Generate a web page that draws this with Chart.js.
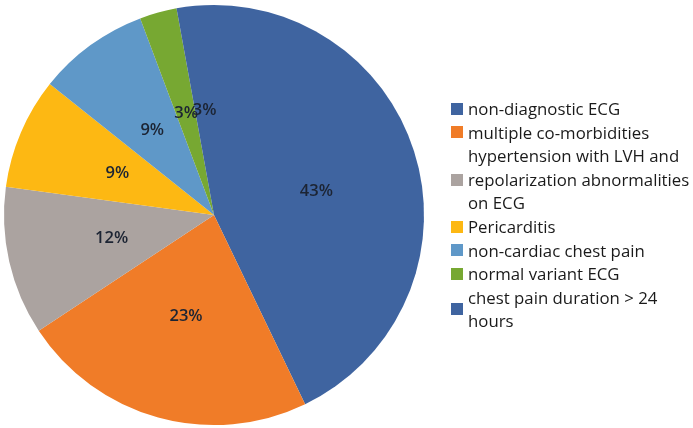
<!DOCTYPE html>
<html>
<head>
<meta charset="utf-8">
<script src="https://cdn.jsdelivr.net/npm/chart.js@4/dist/chart.umd.min.js"></script>
<style>
  html, body { margin: 0; padding: 0; background: #ffffff; }
  #wrap { position: relative; width: 693px; height: 428px; overflow: hidden; }
  #c { position: absolute; left: 0; top: 0; }
  #legend { position: absolute; left: 451px; top: 97px; font-family: "Open Sans", Lato, sans-serif; font-size: 16.8px; color: #1a1a1a; }
  .item { position: relative; padding-left: 17px; line-height: 23.6px; white-space: nowrap; }
  .box { position: absolute; left: 0; width: 12px; height: 12px; top: 50%; margin-top: -6px; }
</style>
</head>
<body>
<div id="wrap">
  <canvas id="c" width="693" height="428"></canvas>
  <div id="legend"></div>
</div>
<script>
const categories = [
  ["non-diagnostic ECG"],
  ["multiple co-morbidities"],
  ["hypertension with LVH and", "repolarization abnormalities", "on ECG"],
  ["Pericarditis"],
  ["non-cardiac chest pain"],
  ["normal variant ECG"],
  ["chest pain duration > 24", "hours"]
];
const counts = [15, 8, 4, 3, 3, 1, 1];
const pctLabels = ["43%", "23%", "12%", "9%", "9%", "3%", "3%"];
const colors = ["#3F64A0", "#F07C28", "#ABA3A0", "#FDB813", "#5F98C8", "#77A832", "#3F64A0"];

// HTML legend built from the arrays
const legend = document.getElementById('legend');
categories.forEach((lines, i) => {
  const div = document.createElement('div');
  div.className = 'item';
  const box = document.createElement('span');
  box.className = 'box';
  box.style.background = colors[i];
  div.appendChild(box);
  lines.forEach((t, j) => {
    if (j > 0) div.appendChild(document.createElement('br'));
    div.appendChild(document.createTextNode(t));
  });
  legend.appendChild(div);
});

const sliceLabels = {
  id: 'sliceLabels',
  afterDatasetsDraw(chart) {
    const ctx = chart.ctx;
    const meta = chart.getDatasetMeta(0);
    ctx.save();
    ctx.font = '600 16.5px "Open Sans", Lato, sans-serif';
    ctx.fillStyle = '#1c2433';
    ctx.textAlign = 'center';
    ctx.textBaseline = 'middle';
    meta.data.forEach((arc, i) => {
      const p = arc.getProps(['x', 'y', 'startAngle', 'endAngle', 'outerRadius'], true);
      const mid = (p.startAngle + p.endAngle) / 2;
      const r = p.outerRadius * 0.5;
      ctx.fillText(pctLabels[i], p.x + Math.cos(mid) * r, p.y + Math.sin(mid) * r);
    });
    ctx.restore();
  }
};

new Chart(document.getElementById('c'), {
  type: 'pie',
  data: {
    labels: categories.map(l => l.join(' ')),
    datasets: [{
      data: counts,
      backgroundColor: colors,
      borderWidth: 0
    }]
  },
  options: {
    responsive: false,
    animation: false,
    layout: { padding: { left: 4, right: 269, top: 5, bottom: 3 } },
    plugins: {
      legend: { display: false },
      tooltip: { enabled: false }
    }
  },
  plugins: [sliceLabels]
});
</script>
</body>
</html>
